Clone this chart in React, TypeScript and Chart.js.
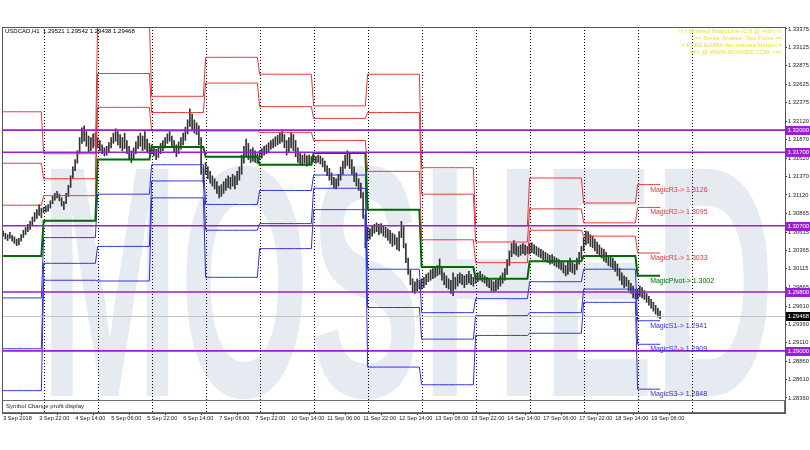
import React, { useEffect, useRef } from "react";
import { Chart, registerables } from "chart.js";

Chart.register(...registerables);

// ---------- header / texts ----------
const symbolHeader = "USDCAD,H1  1.29521 1.29542 1.29438 1.29468";
const infoLines = [
  "!!! [ Moshed MagicLine v2.0 @ Ariff ] !!!",
  "== Berita, Analisa, Tips Forex ==",
  "= FREE EA/MA dan bahasa Melayu =",
  "==> @ WWW.MOSHED.COM <==",
];
const watermarkText = "MOSHED";
const panelText = "Symbol Change profit display";

// ---------- hourly price bars (low / high) ----------
const barLows = [
  1.3056,1.3052,1.3050,1.3053,1.3049,1.3046,1.3043,1.3044,1.3049,1.3054,1.3058,1.3062,1.3065,1.3070,1.3076,1.3080,1.3084,1.3081,
  1.3088,1.3089,1.3090,1.3094,1.3100,1.3105,1.3108,1.3104,1.3097,1.3092,1.3100,1.3110,1.3122,1.3135,1.3145,1.3155,1.3168,1.3182,1.3185,1.3178,1.3170,1.3172,1.3176,1.3178,
  1.3176,1.3172,1.3168,1.3165,1.3166,1.3170,1.3176,1.3182,1.3185,1.3180,1.3176,1.3172,1.3175,1.3168,1.3160,1.3156,1.3160,1.3168,1.3175,1.3178,1.3172,1.3174,1.3170,1.3168,
  1.3168,1.3165,1.3160,1.3163,1.3168,1.3172,1.3176,1.3182,1.3185,1.3178,1.3170,1.3164,1.3168,1.3174,1.3180,1.3186,1.3195,1.3205,1.3200,1.3196,1.3194,1.3180,1.3140,1.3129,
  1.3140,1.3134,1.3128,1.3124,1.3120,1.3114,1.3108,1.3110,1.3114,1.3118,1.3122,1.3120,1.3124,1.3120,1.3126,1.3132,1.3140,1.3155,1.3165,1.3160,1.3156,1.3158,1.3156,1.3155,
  1.3160,1.3162,1.3166,1.3168,1.3170,1.3174,1.3176,1.3178,1.3180,1.3182,1.3184,1.3176,1.3166,1.3170,1.3176,1.3172,1.3164,1.3156,1.3154,1.3152,1.3155,1.3151,1.3154,1.3153,
  1.3157,1.3155,1.3156,1.3154,1.3150,1.3144,1.3138,1.3132,1.3126,1.3122,1.3120,1.3124,1.3132,1.3140,1.3148,1.3152,1.3148,1.3140,1.3130,1.3124,1.3118,1.3108,1.3080,1.3040,
  1.3050,1.3052,1.3056,1.3060,1.3062,1.3058,1.3060,1.3056,1.3054,1.3050,1.3046,1.3042,1.3044,1.3038,1.3036,1.3054,1.3040,1.3020,1.3004,1.2990,1.2980,1.2978,1.2982,1.2984,
  1.2984,1.2986,1.2990,1.2994,1.2996,1.2998,1.3000,1.3002,1.3004,1.2996,1.2990,1.2986,1.2984,1.2978,1.2975,1.2984,1.2988,1.2992,1.2990,1.2986,1.2990,1.2992,1.2990,1.2988,
  1.2992,1.2994,1.2996,1.2994,1.2992,1.2988,1.2986,1.2982,1.2980,1.2982,1.2984,1.2988,1.2992,1.2996,1.3004,1.3016,1.3028,1.3032,1.3030,1.3028,1.3030,1.3032,1.3030,1.3032,
  1.3032,1.3034,1.3032,1.3030,1.3028,1.3026,1.3024,1.3022,1.3020,1.3018,1.3019,1.3016,1.3014,1.3012,1.3010,1.3006,1.3002,1.3004,1.3008,1.3006,1.3004,1.3010,1.3018,1.3026,
  1.3036,1.3044,1.3046,1.3042,1.3040,1.3036,1.3032,1.3030,1.3026,1.3022,1.3020,1.3016,1.3014,1.3012,1.3008,1.3002,1.2996,1.2990,1.2986,1.2988,1.2982,1.2978,1.2972,1.2971,
  1.2970,1.2974,1.2972,1.2970,1.2966,1.2962,1.2958,1.2954,1.2950,1.2946,1.29438,
];
const barHighs = [
  1.3063,1.3060,1.3058,1.3061,1.3057,1.3055,1.3052,1.3053,1.3058,1.3064,1.3068,1.3072,1.3076,1.3082,1.3088,1.3092,1.3099,1.3094,
  1.3095,1.3097,1.3099,1.3104,1.3110,1.3114,1.3117,1.3113,1.3108,1.3103,1.3114,1.3125,1.3138,1.3150,1.3160,1.3172,1.3190,1.3203,1.3206,1.3198,1.3192,1.3190,1.3195,1.3196,
  1.3190,1.3186,1.3180,1.3176,1.3178,1.3183,1.3190,1.3196,1.3202,1.3198,1.3194,1.3190,1.3196,1.3186,1.3178,1.3172,1.3176,1.3184,1.3192,1.3196,1.3192,1.3198,1.3188,1.3182,
  1.3180,1.3178,1.3174,1.3176,1.3182,1.3186,1.3190,1.3195,1.3198,1.3192,1.3186,1.3180,1.3184,1.3190,1.3196,1.3204,1.3214,1.3229,1.3222,1.3214,1.3210,1.3206,1.3190,1.3150,
  1.3156,1.3150,1.3144,1.3138,1.3134,1.3130,1.3124,1.3126,1.3130,1.3134,1.3138,1.3136,1.3140,1.3138,1.3144,1.3150,1.3166,1.3178,1.3188,1.3182,1.3174,1.3176,1.3172,1.3168,
  1.3172,1.3175,1.3178,1.3180,1.3183,1.3186,1.3188,1.3191,1.3193,1.3196,1.3198,1.3194,1.3186,1.3190,1.3196,1.3194,1.3186,1.3176,1.3170,1.3166,1.3168,1.3165,1.3166,1.3164,
  1.3166,1.3164,1.3166,1.3165,1.3162,1.3158,1.3152,1.3148,1.3142,1.3136,1.3134,1.3140,1.3150,1.3158,1.3166,1.3172,1.3168,1.3160,1.3150,1.3142,1.3134,1.3128,1.3115,1.3085,
  1.3068,1.3066,1.3070,1.3072,1.3074,1.3072,1.3073,1.3070,1.3068,1.3066,1.3064,1.3060,1.3058,1.3054,1.3062,1.3076,1.3070,1.3046,1.3026,1.3010,1.2998,1.2994,1.2998,1.2996,
  1.2998,1.3000,1.3004,1.3006,1.3010,1.3012,1.3014,1.3016,1.3025,1.3014,1.3006,1.3002,1.2998,1.2996,1.3006,1.3000,1.3004,1.3006,1.3004,1.3002,1.3004,1.3008,1.3004,1.3000,
  1.3004,1.3006,1.3008,1.3004,1.3002,1.3000,1.2998,1.2996,1.2994,1.2996,1.2998,1.3002,1.3006,1.3012,1.3024,1.3036,1.3046,1.3050,1.3046,1.3042,1.3044,1.3046,1.3044,1.3042,
  1.3046,1.3047,1.3044,1.3042,1.3040,1.3038,1.3036,1.3034,1.3032,1.3030,1.3031,1.3028,1.3026,1.3024,1.3022,1.3020,1.3016,1.3022,1.3026,1.3020,1.3018,1.3026,1.3034,1.3042,
  1.3054,1.3063,1.3062,1.3058,1.3056,1.3052,1.3048,1.3044,1.3040,1.3038,1.3034,1.3030,1.3028,1.3026,1.3022,1.3018,1.3012,1.3006,1.3002,1.3000,1.2996,1.2992,1.2988,1.2982,
  1.2984,1.2988,1.2986,1.2982,1.2978,1.2974,1.2970,1.2966,1.2962,1.2958,1.29542,
];

// ---------- days (bar index where each day starts) ----------
const dayStartIdx = [0, 18, 42, 66, 90, 114, 138, 162, 186, 210, 234, 258, 282];
const separatorIdx = [18, 42, 66, 90, 114, 138, 162, 186, 210, 234, 258, 282, 306];

// ---------- daily MagicLine pivot levels ----------
const levelR3 = [1.3225, 1.3168, 1.3349, 1.3246, 1.3299, 1.3276, 1.3233, 1.3276, 1.3149, 1.3070, 1.3135, 1.3101, 1.3126];
const levelR2 = [1.3155, 1.3134, 1.3277, 1.3224, 1.3264, 1.3232, 1.3216, 1.3224, 1.3113, 1.3048, 1.3093, 1.3074, 1.3095];
const levelR1 = [1.3098, 1.3111, 1.3231, 1.3199, 1.3199, 1.3197, 1.3186, 1.3144, 1.3051, 1.3020, 1.3064, 1.3056, 1.3033];
const levelPivot = [1.3029, 1.3077, 1.3160, 1.3177, 1.3164, 1.3153, 1.3169, 1.3092, 1.3014, 1.2998, 1.3022, 1.3029, 1.3002];
const levelS1 = [1.2972, 1.3054, 1.3113, 1.3153, 1.3099, 1.3118, 1.3139, 1.3011, 1.2952, 1.2971, 1.2994, 1.3011, 1.2941];
const levelS2 = [1.2903, 1.3019, 1.3042, 1.3131, 1.3064, 1.3073, 1.3121, 1.2959, 1.2916, 1.2948, 1.2952, 1.2984, 1.2909];
const levelS3 = [1.2846, 1.2996, 1.2995, 1.3108, 1.3000, 1.3039, 1.3092, 1.2878, 1.2854, 1.2921, 1.2924, 1.2966, 1.2848];

const levelNames = ["MagicR3", "MagicR2", "MagicR1", "MagicPivot", "MagicS1", "MagicS2", "MagicS3"];

// ---------- horizontal objects ----------
const hLines = [1.32, 1.317, 1.307, 1.298, 1.29];
const bidPrice = 1.29468;

// ---------- axes ----------
const xTickIdx = [0, 16, 32, 48, 64, 80, 96, 112, 128, 144, 160, 176, 192, 208, 224, 240, 256, 272, 288];
const xTickLabels = [
  "3 Sep 2018", "3 Sep 22:00", "4 Sep 14:00", "5 Sep 06:00", "5 Sep 22:00", "6 Sep 14:00",
  "7 Sep 06:00", "7 Sep 22:00", "10 Sep 14:00", "11 Sep 06:00", "11 Sep 22:00", "12 Sep 14:00",
  "13 Sep 06:00", "13 Sep 22:00", "14 Sep 14:00", "17 Sep 06:00", "17 Sep 22:00", "18 Sep 14:00",
  "19 Sep 06:00",
];
const yTickValues = [
  1.33375, 1.33125, 1.32875, 1.32625, 1.32375, 1.3212, 1.3187, 1.3162, 1.3137, 1.3112, 1.30865,
  1.30615, 1.30365, 1.30115, 1.29865, 1.2961, 1.2936, 1.2911, 1.2886, 1.2861, 1.2836,
];
const yMin = 1.28156;
const yMax = 1.33402;
const xMin = -0.5;
const xMax = 347.5;

const FONT = '"Liberation Sans", Arial, sans-serif';
const RED = "#e83434";
const BLUE = "#2f2fe0";
const GREEN = "#006a00";
const PURPLE = "#9a1ed2";

function dayOf(i: number): number {
  let d = 0;
  for (let k = 0; k < dayStartIdx.length; k++) if (dayStartIdx[k] <= i) d = k;
  return d;
}

const allLevels = [levelR3, levelR2, levelR1, levelPivot, levelS1, levelS2, levelS3];
const levelColors = [RED, RED, RED, GREEN, BLUE, BLUE, BLUE];

const overlayPlugin = {
  id: "mt4Overlay",
  beforeDatasetsDraw(chart: any) {
    const { ctx, chartArea: ca, scales } = chart;
    const xs = scales.x;
    ctx.save();
    ctx.beginPath();
    ctx.rect(ca.left, ca.top, ca.right - ca.left, ca.bottom - ca.top);
    ctx.clip();
    // watermark
    ctx.save();
    ctx.fillStyle = "#e6eaf1";
    ctx.font = `bold 330px ${FONT}`;
    const w = ctx.measureText(watermarkText).width;
    ctx.translate(40, 396);
    ctx.scale(735 / w, 1);
    ctx.textBaseline = "alphabetic";
    ctx.fillText(watermarkText, 0, 0);
    ctx.restore();
    // bottom sub panel
    ctx.fillStyle = "#ffffff";
    ctx.fillRect(ca.left, ca.bottom - 13, ca.right - ca.left, 13);
    ctx.strokeStyle = "#707070";
    ctx.lineWidth = 1;
    ctx.strokeRect(ca.left + 0.5, ca.bottom - 12.5, ca.right - ca.left - 1, 12);
    ctx.fillStyle = "#222";
    ctx.font = `6px ${FONT}`;
    ctx.textBaseline = "middle";
    ctx.textAlign = "left";
    ctx.fillText(panelText, ca.left + 4, ca.bottom - 6.5);
    // day separators
    ctx.strokeStyle = "#000";
    ctx.setLineDash([1, 2]);
    for (const idx of separatorIdx) {
      const x = Math.round(xs.getPixelForValue(idx)) + 0.5;
      ctx.beginPath();
      ctx.moveTo(x, ca.top);
      ctx.lineTo(x, ca.bottom);
      ctx.stroke();
    }
    ctx.restore();
  },
  afterDatasetsDraw(chart: any) {
    const { ctx, chartArea: ca, scales } = chart;
    const xs = scales.x;
    const ys = scales.y;
    ctx.save();
    ctx.beginPath();
    ctx.rect(ca.left, ca.top, ca.right - ca.left, ca.bottom - ca.top);
    ctx.clip();
    // bid line
    const by = Math.round(ys.getPixelForValue(bidPrice)) + 0.5;
    ctx.strokeStyle = "#c4c4c4";
    ctx.lineWidth = 1;
    ctx.beginPath();
    ctx.moveTo(ca.left, by);
    ctx.lineTo(ca.right, by);
    ctx.stroke();
    // purple horizontal lines
    ctx.strokeStyle = PURPLE;
    ctx.lineWidth = 1.6;
    for (const v of hLines) {
      const y = ys.getPixelForValue(v);
      ctx.beginPath();
      ctx.moveTo(ca.left, y);
      ctx.lineTo(ca.right, y);
      ctx.stroke();
    }
    // level labels
    const lastDay = dayStartIdx.length - 1;
    const lx = xs.getPixelForValue(288) - 1;
    ctx.font = `7px ${FONT}`;
    ctx.textAlign = "left";
    ctx.textBaseline = "middle";
    allLevels.forEach((arr, k) => {
      const v = arr[lastDay];
      const y = ys.getPixelForValue(v) + 5;
      ctx.fillStyle = levelColors[k];
      ctx.fillText(`${levelNames[k]}-> ${v.toFixed(4)}`, lx, y);
    });
    // header
    ctx.fillStyle = "#000";
    ctx.font = `6px ${FONT}`;
    ctx.fillText(symbolHeader, ca.left + 3, ca.top + 4.5);
    // info text
    ctx.fillStyle = "#f0e030";
    ctx.textAlign = "right";
    infoLines.forEach((t, k) => {
      ctx.fillText(t, ca.right - 3, ca.top + 4.5 + k * 6.9);
    });
    ctx.restore();
  },
  afterDraw(chart: any) {
    const { ctx, chartArea: ca, scales } = chart;
    const ys = scales.y;
    ctx.save();
    // frame
    ctx.strokeStyle = "#555";
    ctx.lineWidth = 1;
    ctx.strokeRect(ca.left + 0.5, ca.top + 0.5, ca.right - ca.left, ca.bottom - ca.top);
    // axis boxes
    ctx.font = `6px ${FONT}`;
    ctx.textAlign = "left";
    ctx.textBaseline = "middle";
    const boxes = hLines.map((v) => ({ v, c: PURPLE })).concat([{ v: bidPrice, c: "#000" }]);
    for (const b of boxes) {
      const y = ys.getPixelForValue(b.v);
      ctx.fillStyle = b.c;
      ctx.fillRect(ca.right + 1, Math.round(y) - 4, 24, 9);
      ctx.fillStyle = "#fff";
      ctx.fillText(b.v.toFixed(5), ca.right + 2.5, Math.round(y) + 0.5);
    }
    ctx.restore();
  },
};

export default function App() {
  const ref = useRef<HTMLCanvasElement | null>(null);
  useEffect(() => {
    if (!ref.current) return;
    const barData = barLows.map((lo, i) => ({ x: i, y: [lo, barHighs[i]] }));
    const levelSets = allLevels.map((arr, k) => ({
      type: "line" as const,
      label: levelNames[k],
      data: barLows.map((_, i) => ({ x: i, y: arr[dayOf(i)] })),
      borderColor: levelColors[k],
      borderWidth: k === 3 ? 2 : 1,
      pointRadius: 0,
      tension: 0,
      fill: false,
      order: 1,
    }));
    const chart = new Chart(ref.current, {
      type: "bar",
      data: {
        datasets: [
          {
            type: "bar",
            label: "USDCAD",
            data: barData as any,
            backgroundColor: "#333333",
            barThickness: 1,
            order: 10,
          } as any,
          ...levelSets,
        ],
      },
      options: {
        responsive: false,
        animation: false,
        layout: { padding: { top: 27, left: 2, right: 0, bottom: 0 } },
        plugins: { legend: { display: false }, tooltip: { enabled: false } },
        scales: {
          x: {
            type: "linear",
            min: xMin,
            max: xMax,
            offset: false,
            afterBuildTicks: (s: any) => {
              s.ticks = xTickIdx.map((v) => ({ value: v }));
            },
            afterFit: (s: any) => {
              s.height = 37;
            },
            grid: { display: true, drawOnChartArea: false, drawTicks: true, tickLength: 2, color: "#333" },
            border: { display: false },
            ticks: {
              align: "start",
              maxRotation: 0,
              autoSkip: false,
              padding: 0,
              color: "#222",
              font: { family: FONT, size: 5.6 },
              callback: (v: any) => xTickLabels[xTickIdx.indexOf(Number(v))] ?? "",
            },
          },
          y: {
            type: "linear",
            position: "right",
            min: yMin,
            max: yMax,
            afterBuildTicks: (s: any) => {
              s.ticks = yTickValues.map((v) => ({ value: v }));
            },
            afterFit: (s: any) => {
              s.width = 25;
            },
            grid: { display: true, drawOnChartArea: false, drawTicks: true, tickLength: 2, color: "#333" },
            border: { display: true, color: "#555" },
            ticks: {
              padding: 1,
              color: "#222",
              font: { family: FONT, size: 5.8 },
              callback: (v: any) => Number(v).toFixed(5),
            },
          },
        },
      } as any,
      plugins: [overlayPlugin],
    });
    return () => chart.destroy();
  }, []);
  return (
    <div style={{ position: "fixed", left: 0, top: 0, width: 810, height: 450, background: "#fff" }}>
      <canvas ref={ref} width={810} height={450} style={{ display: "block" }} />
    </div>
  );
}
